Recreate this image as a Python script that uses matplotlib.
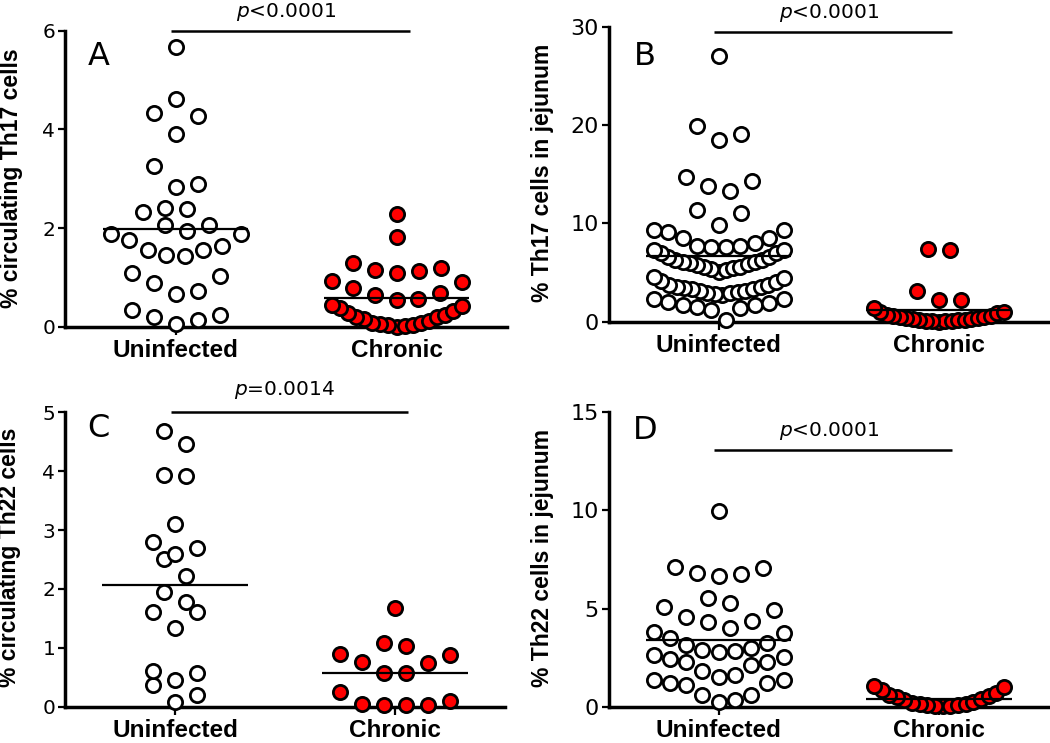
import numpy as np
import matplotlib
matplotlib.use("Agg")
import matplotlib.pyplot as plt

W, H, DPI = 1050, 743, 100

GROUPS = ["Uninfected", "Chronic"]

# A: % circulating Th17 cells
a_uninfected = [0.05, 0.14, 0.19, 0.24, 0.33, 0.65, 0.73, 0.89, 1.02, 1.08,
                1.44, 1.45, 1.55, 1.55, 1.64, 1.76, 1.87, 1.87, 1.93, 2.07,
                2.07, 2.33, 2.39, 2.41, 2.84, 2.89, 3.25, 3.91, 4.28, 4.33,
                4.61, 5.67]
a_chronic = [0.00, 0.02, 0.03, 0.03, 0.06, 0.08, 0.08, 0.12, 0.15, 0.19,
             0.20, 0.24, 0.27, 0.32, 0.37, 0.41, 0.43, 0.54, 0.56, 0.64,
             0.68, 0.78, 0.91, 0.93, 1.08, 1.12, 1.15, 1.19, 1.29, 1.82, 2.28]

# B: % Th17 cells in jejunum
b_uninfected = [0.17, 1.19, 1.36, 1.53, 1.70, 1.70, 1.87, 2.04, 2.30, 2.34,
                2.71, 2.82, 2.88, 2.95, 3.05, 3.15, 3.15, 3.29, 3.29, 3.39,
                3.49, 3.56, 3.73, 3.73, 4.07, 4.17, 4.41, 4.58,
                5.09, 5.26, 5.33, 5.43, 5.60, 5.60, 5.77, 5.87, 5.94, 6.10,
                6.10, 6.28, 6.28, 6.61, 6.61, 6.96, 6.96, 7.25, 7.27,
                7.56, 7.63, 7.70, 7.70, 7.97, 8.47, 8.55, 9.16, 9.33, 9.36,
                9.85, 11.08, 11.36, 13.3, 13.8, 14.3, 14.7, 18.5, 19.05, 19.9,
                27.0]
b_chronic = [0.00, 0.05, 0.08, 0.10, 0.12, 0.15, 0.17, 0.22, 0.28, 0.30,
             0.35, 0.40, 0.45, 0.50, 0.55, 0.62, 0.70, 0.85, 0.95, 1.00,
             1.36, 2.25, 2.25, 3.16, 7.29, 7.37]

# C: % circulating Th22 cells
c_uninfected = [0.08, 0.20, 0.37, 0.46, 0.58, 0.61, 1.33, 1.60, 1.61, 1.78,
                1.95, 2.22, 2.51, 2.60, 2.69, 2.80, 3.11, 3.91, 3.94, 4.47,
                4.69]
c_chronic = [0.03, 0.03, 0.03, 0.05, 0.10, 0.25, 0.58, 0.58, 0.74, 0.76,
             0.87, 0.89, 1.03, 1.09, 1.67]

# D: % Th22 cells in jejunum
d_uninfected = [0.25, 0.34, 0.60, 0.60, 1.11, 1.22, 1.22, 1.34, 1.34,
                1.53, 1.61, 1.83, 2.12, 2.29, 2.29, 2.41, 2.55, 2.62,
                2.80, 2.85, 2.89, 2.97, 3.14, 3.26, 3.48, 3.74, 3.82,
                3.99, 4.33, 4.38, 4.58, 4.93, 5.07, 5.27, 5.52,
                6.66, 6.76, 6.80, 7.05, 7.13, 9.95]
d_chronic = [0.02, 0.03, 0.05, 0.07, 0.09, 0.12, 0.15, 0.20, 0.26, 0.32,
             0.40, 0.48, 0.55, 0.62, 0.72, 0.85, 0.98, 1.08]

PANELS = [
    dict(letter="A", data=(a_uninfected, a_chronic), ymax=6, yticks=[0, 2, 4, 6],
         ylabel="% circulating Th17 cells", box=(65, 507, 31, 326.5),
         p_text="<0.0001", bar_y=6, p_off=10, letter_at=(88, 65), label_at=(12, 178),
         tick_size=14.5),
    dict(letter="B", data=(b_uninfected, b_chronic), ymax=30, yticks=[0, 10, 20, 30],
         ylabel="% Th17 cells in jejunum", box=(608.5, 1049, 26.7, 321.7),
         p_text="<0.0001", bar_y=29.5, p_off=10, letter_at=(634, 65), label_at=(543, 173),
         tick_size=16),
    dict(letter="C", data=(c_uninfected, c_chronic), ymax=5, yticks=[0, 1, 2, 3, 4, 5],
         ylabel="% circulating Th22 cells", box=(65, 505, 412.3, 706.7),
         p_text="=0.0014", bar_y=5, p_off=12.5, letter_at=(87, 437), label_at=(10, 557),
         tick_size=14.5),
    dict(letter="D", data=(d_uninfected, d_chronic), ymax=15, yticks=[0, 5, 10, 15],
         ylabel="% Th22 cells in jejunum", box=(608.5, 1049, 412.3, 706.7),
         p_text="<0.0001", bar_y=13.1, p_off=10, letter_at=(633, 439), label_at=(543, 558),
         tick_size=16),
]

FACES = ["white", "#ff0000"]
ROW_H = 21.7      # px, values closer than this share a row
STEP = 22.0       # px between neighbours in a row
HALF_W = 65.0     # px, widest a row may spread
MEAN_HALF = 0.33  # data units


def row_offsets(values, px_per_unit):
    """Prism-like column scatter: rows of similar values, lowest in the middle."""
    values = np.asarray(values, dtype=float)
    order = np.argsort(values, kind="stable")
    offsets = np.zeros(len(values))
    i = 0
    while i < len(order):
        start = values[order[i]]
        j = i
        while j < len(order) and (values[order[j]] - start) * px_per_unit <= ROW_H + 1e-9:
            j += 1
        row = order[i:j]
        k = len(row)
        spacing = STEP if (k - 1) * STEP <= 2 * HALF_W else 2 * HALF_W / (k - 1)
        slots = (np.arange(k) - (k - 1) / 2) * spacing
        slot_order = sorted(range(k), key=lambda s: (round(abs(slots[s]), 6), -slots[s]))
        for idx, s in zip(row, slot_order):
            offsets[idx] = slots[s]
        i = j
    return offsets, order


def px_fig(x, y):
    return x / W, 1 - y / H


fig = plt.figure(figsize=(W / DPI, H / DPI), dpi=DPI)
plt.rcParams["font.family"] = "DejaVu Sans"

for panel in PANELS:
    left, right, top, bottom = panel["box"]
    ax = fig.add_axes([left / W, 1 - bottom / H, (right - left) / W, (bottom - top) / H])
    ax.set_xlim(-0.5, 1.5)
    ax.set_ylim(0, panel["ymax"])
    ppu_y = (bottom - top) / panel["ymax"]
    ppu_x = (right - left) / 2.0

    for pos, (vals, face) in enumerate(zip(panel["data"], FACES)):
        offs, order = row_offsets(vals, ppu_y)
        vals = np.asarray(vals, dtype=float)
        ax.scatter(pos + offs[order] / ppu_x, vals[order], s=105, facecolor=face,
                   edgecolor="black", linewidths=2.0, zorder=3, clip_on=False)
        m = vals.mean()
        ax.plot([pos - MEAN_HALF, pos + MEAN_HALF], [m, m], color="black",
                lw=1.6, zorder=4, solid_capstyle="butt")

    ax.plot([-0.02, 1.06], [panel["bar_y"]] * 2, color="black", lw=1.8,
            clip_on=False, solid_capstyle="butt")
    ax.annotate(r"$p$" + panel["p_text"], xy=(0.5, panel["bar_y"]),
                xytext=(0, panel["p_off"]), textcoords="offset points",
                ha="center", va="baseline", fontsize=14.5, annotation_clip=False)

    for side in ["top", "right"]:
        ax.spines[side].set_visible(False)
    for side in ["left", "bottom"]:
        ax.spines[side].set_linewidth(2.5)
        ax.spines[side].set_capstyle("projecting")
    ax.set_yticks(panel["yticks"])
    ax.set_xticks([0, 1])
    ax.set_xticklabels(GROUPS, fontfamily="Liberation Sans", fontweight="bold",
                       fontsize=17.5)
    ax.tick_params(axis="y", direction="out", length=5, width=1.6,
                   labelsize=panel["tick_size"], pad=2)
    ax.tick_params(axis="x", direction="out", length=6, width=1.6, pad=3)

    lx, ly = px_fig(*panel["letter_at"])
    fig.text(lx, ly, panel["letter"], fontsize=23, ha="left", va="baseline")
    yx, yy = px_fig(*panel["label_at"])
    fig.text(yx, yy, panel["ylabel"], rotation=90, ha="center", va="center",
             fontsize=16.5, fontweight="bold", fontfamily="Liberation Sans")

fig.savefig("out.png", dpi=DPI)
